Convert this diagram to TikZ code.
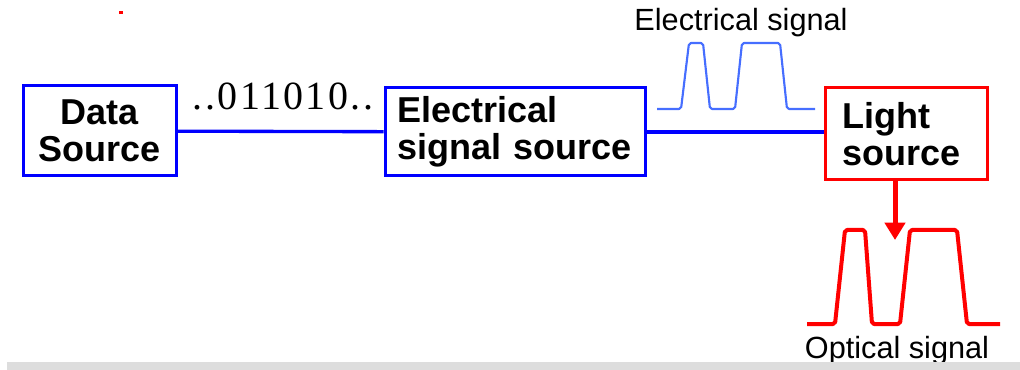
\documentclass[tikz,border=0pt]{standalone}
\usepackage{fontspec}
\setmainfont{Liberation Sans}
\newfontfamily\bitsfont[LetterSpace=6]{Liberation Serif}
\usepackage{tikz}
\usetikzlibrary{arrows.meta, positioning, calc}
\definecolor{boxblue}{RGB}{0,0,255}
\definecolor{waveblue}{RGB}{70,110,255}
\definecolor{bargray}{RGB}{221,221,221}
\tikzstyle{srcbox} = [draw=boxblue, line width=2.25pt, rectangle, inner xsep=11pt, font=\fontsize{27}{27.75}\selectfont\bfseries]
\tikzstyle{siglabel} = [anchor=base, inner sep=0pt, font=\fontsize{23}{25}\selectfont]
\tikzstyle{wire} = [boxblue, line width=2.5pt]
\tikzstyle{wave} = [line width=1.6pt, rounded corners=1.5pt, line join=round]
\tikzstyle{arrow} = [red, line width=3.75pt, -{Triangle[width=15pt,length=13pt]}]

\begin{document}
\begin{tikzpicture}[x=0.75pt, y=-0.75pt]
    \useasboundingbox (0,0) rectangle (1020,370);
    % Nodes
    \node (datasrc) [srcbox, minimum width=114.75pt, minimum height=67.5pt, align=center] at (99.5,131) {Data\\Source};
    \node (elecsrc) [srcbox, inner xsep=9pt, text width=177pt, minimum height=66pt, align=left] at (515,132) {Electrical\\signal source};
    \node (lightsrc) [srcbox, draw=red, inner xsep=12.75pt, text width=96pt, minimum height=69pt, align=left] at (906,134) {Light\\source};
    \node (bits) [siglabel, font=\bitsfont\fontsize{30}{32}\selectfont] at (283,110) {..011010..};
    \node (elecsig) [siglabel] at (741,31) {Electrical signal};
    \node (optsig) [siglabel] at (897,358) {Optical signal};
    \coordinate (optin) at (895,240);

    % Signals
    \draw [wave, waveblue] (657,109) -- (681,109) -- (689,43) -- (703,43) -- (710,109) -- (735,109) -- (742,43) -- (780,43) -- (787,109) -- (815,109);
    \draw [wave, red, line width=3pt] (807,324) -- (835,324) -- (845,230) -- (865,230) -- (872,324) -- (900,324) -- (910,230) -- (957,230) -- (967,324) -- (1000,324);

    % Arrows
    \draw [wire] (datasrc) -- (elecsrc);
    \draw [wire, line width=3pt] (elecsrc.east) -- (elecsrc.east -| lightsrc.west);
    \draw [arrow] (lightsrc.south -| optin) -- (optin);

    % Marks
    \fill [red] (119,11) rectangle (123,14);
    \fill [bargray] (7,362) rectangle (1020,370);
\end{tikzpicture}
\end{document}
